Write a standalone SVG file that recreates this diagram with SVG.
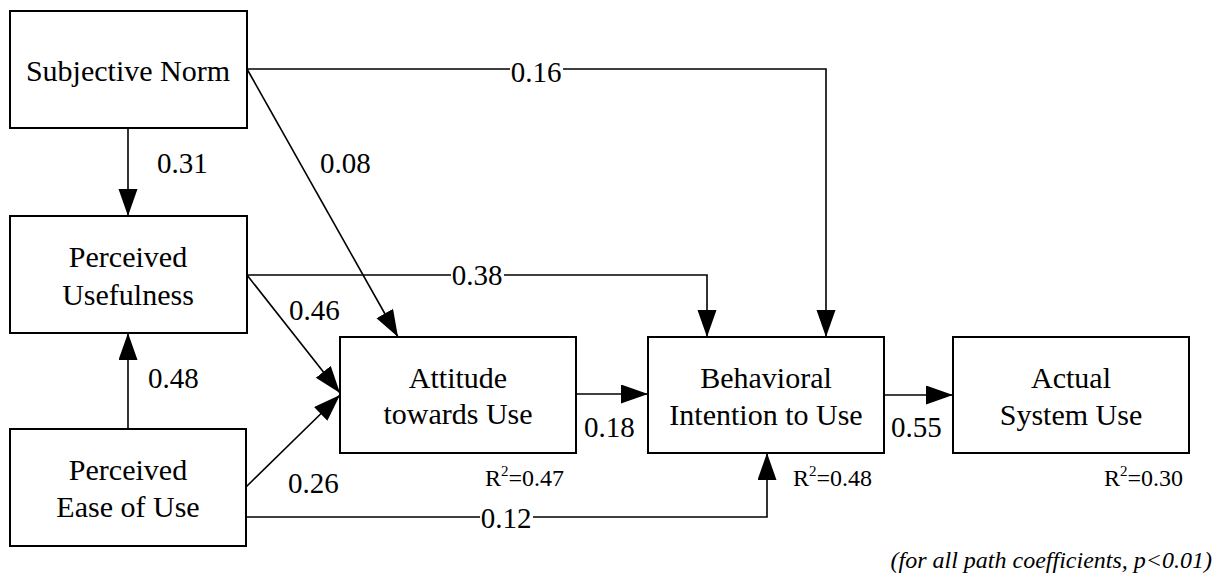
<svg xmlns="http://www.w3.org/2000/svg" width="1222" height="579" viewBox="0 0 1222 579">
<style>
  .box { fill: #fff; stroke: #000; stroke-width: 2; }
  text { font-family: 'Liberation Serif', 'Times New Roman', serif; fill: #000; }
  .lbl { font-size: 30px; text-anchor: middle; }
  .num { font-size: 29px; }
  .r2 { font-size: 24px; }
  .sup { font-size: 15px; }
  .note { font-size: 24px; font-style: italic; text-anchor: end; }
  .edge { fill: none; stroke: #000; stroke-width: 1.6; }
  .bg { fill: #fff; }
</style>
<defs>
  <marker id="ah" markerUnits="userSpaceOnUse" markerWidth="28" markerHeight="20" refX="27" refY="9.5" orient="auto">
    <path d="M0,0 L27,9.5 L0,19 Z" fill="#000"/>
  </marker>
</defs>
<rect width="1222" height="579" fill="#fff"/>
<g id="connectors">
  <line class="edge" x1="128" y1="128" x2="128" y2="216" marker-end="url(#ah)"/>
  <line class="edge" x1="128" y1="429" x2="128" y2="333" marker-end="url(#ah)"/>
  <line class="edge" x1="247" y1="69" x2="398" y2="337" marker-end="url(#ah)"/>
  <path class="edge" d="M247,69 H826 V337" marker-end="url(#ah)"/>
  <line class="edge" x1="247" y1="275" x2="340" y2="393" marker-end="url(#ah)"/>
  <path class="edge" d="M247,275 H707 V337" marker-end="url(#ah)"/>
  <line class="edge" x1="246" y1="487" x2="340" y2="395" marker-end="url(#ah)"/>
  <path class="edge" d="M246,517 H767 V453" marker-end="url(#ah)"/>
  <line class="edge" x1="576" y1="394" x2="648" y2="394" marker-end="url(#ah)"/>
  <line class="edge" x1="884" y1="395" x2="953" y2="395" marker-end="url(#ah)"/>
  <rect class="bg" x="510" y="58" width="53" height="24"/>
  <rect class="bg" x="451" y="263" width="53" height="24"/>
  <rect class="bg" x="480" y="506" width="53" height="24"/>
  <text class="num" x="157" y="173">0.31</text>
  <text class="num" x="320" y="173">0.08</text>
  <text class="num" x="536" y="82" text-anchor="middle">0.16</text>
  <text class="num" x="477" y="285" text-anchor="middle">0.38</text>
  <text class="num" x="289" y="320">0.46</text>
  <text class="num" x="148" y="388">0.48</text>
  <text class="num" x="288" y="493">0.26</text>
  <text class="num" x="506" y="528" text-anchor="middle">0.12</text>
  <text class="num" x="584" y="437">0.18</text>
  <text class="num" x="891" y="437">0.55</text>
</g>
<g id="subjective-norm">
  <rect class="box" x="10" y="11" width="237" height="117"/>
  <text class="lbl" x="128" y="81">Subjective Norm</text>
</g>
<g id="perceived-usefulness">
  <rect class="box" x="10" y="216" width="237" height="117"/>
  <text class="lbl" x="128" y="267">Perceived</text>
  <text class="lbl" x="128" y="305">Usefulness</text>
</g>
<g id="perceived-ease-of-use">
  <rect class="box" x="10" y="429" width="236" height="117"/>
  <text class="lbl" x="128" y="480">Perceived</text>
  <text class="lbl" x="128" y="517">Ease of Use</text>
</g>
<g id="attitude">
  <rect class="box" x="340" y="337" width="236" height="116"/>
  <text class="lbl" x="458" y="388">Attitude</text>
  <text class="lbl" x="458" y="424">towards Use</text>
  <text class="r2" x="485" y="486">R<tspan class="sup" dy="-10">2</tspan><tspan dy="10">=0.47</tspan></text>
</g>
<g id="behavioral-intention">
  <rect class="box" x="648" y="337" width="236" height="116"/>
  <text class="lbl" x="766" y="388">Behavioral</text>
  <text class="lbl" x="766" y="425">Intention to Use</text>
  <text class="r2" x="793" y="486">R<tspan class="sup" dy="-10">2</tspan><tspan dy="10">=0.48</tspan></text>
</g>
<g id="actual-system-use">
  <rect class="box" x="953" y="337" width="236" height="116"/>
  <text class="lbl" x="1071" y="388">Actual</text>
  <text class="lbl" x="1071" y="425">System Use</text>
  <text class="r2" x="1104" y="486">R<tspan class="sup" dy="-10">2</tspan><tspan dy="10">=0.30</tspan></text>
</g>
<text class="note" x="1212" y="568">(for all path coefficients, p&lt;0.01)</text>
</svg>
